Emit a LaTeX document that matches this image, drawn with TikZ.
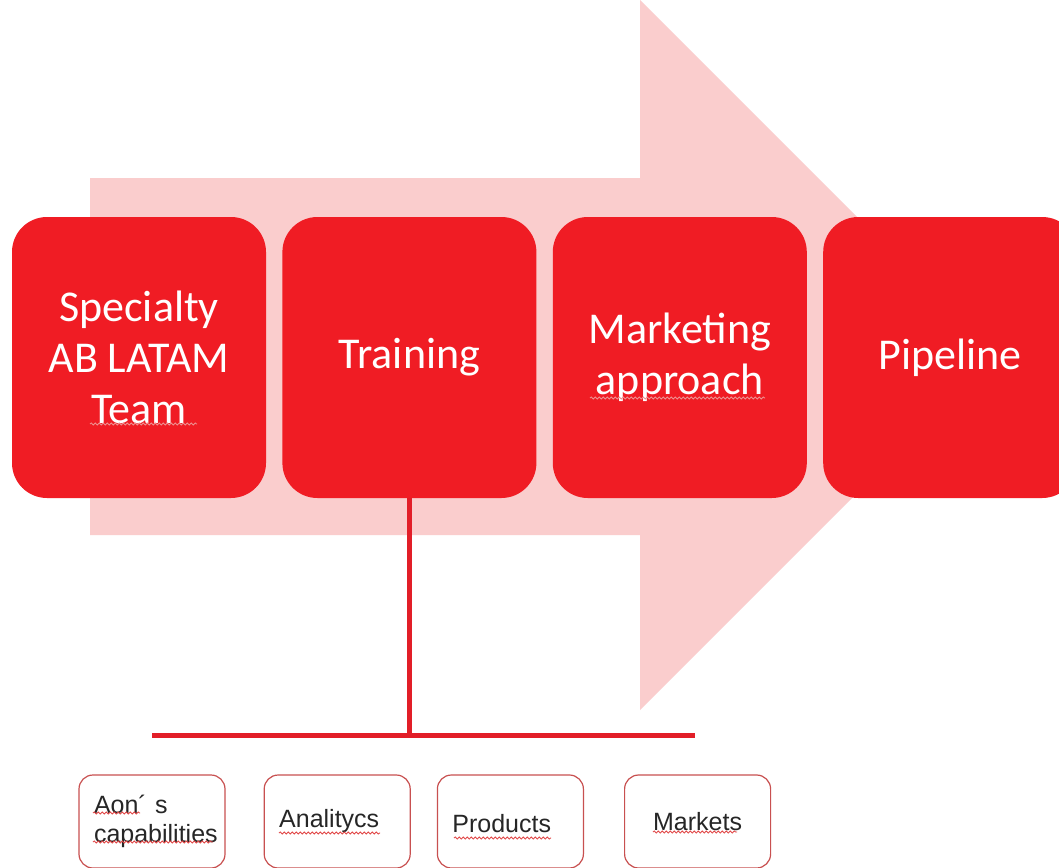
\documentclass[tikz,border=0pt]{standalone}
\usepackage{fontspec}
\setmainfont{Carlito}
\newfontfamily\arialfont{Liberation Sans}
\usepackage{tikz}
\usetikzlibrary{positioning,decorations.pathmorphing}
\definecolor{stagered}{RGB}{240,28,36}
\definecolor{arrowpink}{RGB}{250,205,205}
\definecolor{linkred}{RGB}{226,30,40}
\definecolor{topicedge}{RGB}{200,80,80}
\definecolor{squigred}{RGB}{225,70,70}
\tikzstyle{stage} = [rectangle, rounded corners=35pt, minimum width=254pt, minimum height=281pt, fill=stagered, text=white, align=center, font=\fontsize{44}{51}\selectfont]
\tikzstyle{topic} = [rectangle, rounded corners=14pt, minimum width=146pt, minimum height=93pt, draw=topicedge, line width=1.2pt, fill=white, text=black!85, text width=116pt, align=left, font=\arialfont\fontsize{25}{29}\selectfont]
\tikzstyle{link} = [line width=5pt, color=linkred]
\tikzstyle{squig} = [squigred, line width=0.8pt, decorate, decoration={snake, amplitude=1.1pt, segment length=4pt}]

\begin{document}
\begin{tikzpicture}[x=1pt, y=-1pt]
\useasboundingbox (0,0) rectangle (1059,867);
\fill[white] (0,0) rectangle (1059,867);
% big background arrow
\fill[arrowpink] (90,178) -- (640,178) -- (640,0) -- (995,355) -- (640,710) -- (640,535) -- (90,535) -- cycle;

% stages
\node (team) [stage] at (139,357.5) {Specialty\\AB LATAM\\Team};
\node (training) [stage, right=16pt of team] {Training};
\node (marketing) [stage, right=16pt of training] {Marketing\\approach};
\node (pipeline) [stage, right=16pt of marketing] {Pipeline};

% training topics
\coordinate (barL) at (152,735);
\coordinate (barR) at (695,735);
\draw[link] (training.south) -- (training.south |- barL);
\draw[link] (barL) -- (barR);

\node (aon) [topic] at (152,821.5) {Aon´ s\\capabilities};
\node (analitycs) [topic, right=38pt of aon] {Analitycs};
\node (products) [topic, right=26pt of analitycs] {\raisebox{-11pt}[0pt][0pt]{Products}};
\node (markets) [topic, right=40pt of products, align=center] {Markets};

% spell-check waves
\draw[squig, squigred!60!white] (90,424) -- (197,424);
\draw[squig, squigred!60!white] (590,398) -- (765,398);
\draw[squig] (93,813) -- (140,813);
\draw[squig] (93,842) -- (213,842);
\draw[squig] (279,833) -- (380,833);
\draw[squig] (454,838) -- (551,838);
\draw[squig] (653,832) -- (737,832);
\end{tikzpicture}
\end{document}
